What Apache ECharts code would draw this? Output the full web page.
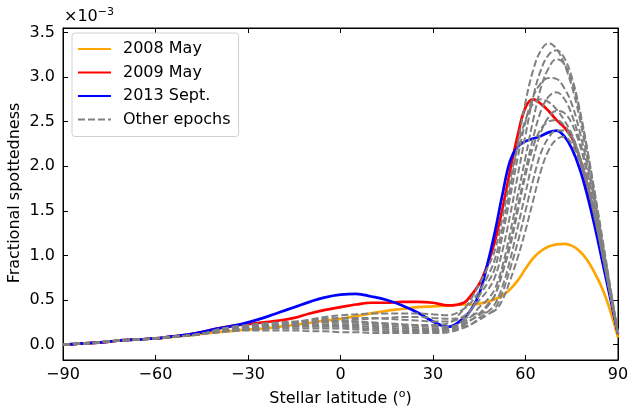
<!DOCTYPE html>
<html>
<head>
<meta charset="utf-8">
<script src="https://cdn.jsdelivr.net/npm/echarts@6/dist/echarts.min.js"></script>
<style>
  html, body { margin: 0; padding: 0; background: #fff; }
  #main { width: 629px; height: 407px; }
</style>
</head>
<body>
<div id="main"></div>
<script>
// stellar latitude grid (degrees): 5 deg steps up to 40, then 2.5 deg
const lats = [-90, -85, -80, -75, -70, -65, -60, -55, -50, -45, -40, -35, -30, -25, -20, -15, -10, -5, 0,
  5, 10, 15, 20, 25, 30, 35,
  40, 42.5, 45, 47.5, 50, 52.5, 55, 57.5, 60, 62.5, 65, 67.5, 70, 72.5, 75, 77.5, 80, 82.5, 85, 87.5, 90];

// fractional spottedness (x 1e-3)
const may2008 = [0, 0.01, 0.02, 0.035, 0.05, 0.06, 0.07, 0.085, 0.10, 0.12, 0.14, 0.155, 0.17, 0.18, 0.20, 0.22, 0.245, 0.27, 0.29,
  0.32, 0.35, 0.38, 0.40, 0.42, 0.43, 0.44,
  0.45, 0.45, 0.46, 0.48, 0.51, 0.55, 0.62, 0.72, 0.85, 0.97, 1.05, 1.10, 1.125, 1.13, 1.11, 1.05, 0.95, 0.80, 0.62, 0.38, 0.08];
const may2009 = [0, 0.01, 0.02, 0.035, 0.05, 0.06, 0.07, 0.09, 0.11, 0.14, 0.18, 0.21, 0.23, 0.25, 0.27, 0.30, 0.35, 0.39, 0.42,
  0.45, 0.47, 0.47, 0.48, 0.48, 0.47, 0.44,
  0.47, 0.56, 0.68, 0.88, 1.15, 1.52, 1.95, 2.35, 2.66, 2.75, 2.70, 2.62, 2.52, 2.44, 2.32, 2.10, 1.80, 1.42, 1.01, 0.57, 0.12];
const sept2013 = [0, 0.01, 0.02, 0.035, 0.05, 0.06, 0.07, 0.09, 0.11, 0.14, 0.18, 0.21, 0.25, 0.30, 0.36, 0.42, 0.48, 0.53, 0.56,
  0.57, 0.54, 0.50, 0.44, 0.36, 0.26, 0.20,
  0.30, 0.40, 0.57, 0.88, 1.25, 1.68, 2.06, 2.22, 2.28, 2.31, 2.34, 2.38, 2.40, 2.34, 2.20, 1.98, 1.68, 1.32, 0.92, 0.52, 0.12];

const otherEpochs = [
  [0, 0.01, 0.02, 0.035, 0.05, 0.06, 0.07, 0.085, 0.10, 0.12, 0.14, 0.16, 0.18, 0.20, 0.22, 0.25, 0.28, 0.31, 0.33,
    0.34, 0.35, 0.35, 0.35, 0.35, 0.34, 0.33,
    0.40, 0.48, 0.60, 0.75, 0.95, 1.30, 1.75, 2.25, 2.72, 3.08, 3.30, 3.38, 3.32, 3.15, 2.90, 2.55, 2.10, 1.62, 1.12, 0.62, 0.12],
  [0, 0.01, 0.02, 0.035, 0.05, 0.06, 0.07, 0.085, 0.10, 0.12, 0.15, 0.17, 0.19, 0.21, 0.23, 0.25, 0.27, 0.29, 0.30,
    0.30, 0.30, 0.29, 0.28, 0.27, 0.26, 0.26,
    0.32, 0.40, 0.50, 0.60, 0.75, 1.05, 1.45, 1.90, 2.35, 2.78, 3.08, 3.25, 3.30, 3.22, 3.00, 2.65, 2.20, 1.70, 1.18, 0.65, 0.12],
  [0, 0.01, 0.02, 0.035, 0.05, 0.06, 0.07, 0.085, 0.10, 0.12, 0.16, 0.18, 0.20, 0.21, 0.22, 0.23, 0.24, 0.25, 0.25,
    0.25, 0.24, 0.23, 0.22, 0.21, 0.20, 0.20,
    0.26, 0.32, 0.42, 0.50, 0.62, 0.88, 1.25, 1.68, 2.10, 2.52, 2.88, 3.10, 3.20, 3.15, 2.95, 2.62, 2.18, 1.68, 1.15, 0.63, 0.12],
  [0, 0.01, 0.02, 0.035, 0.05, 0.06, 0.07, 0.085, 0.10, 0.12, 0.15, 0.17, 0.18, 0.19, 0.20, 0.21, 0.21, 0.21, 0.21,
    0.21, 0.20, 0.19, 0.18, 0.17, 0.17, 0.18,
    0.28, 0.40, 0.55, 0.68, 0.85, 1.22, 1.65, 2.10, 2.50, 2.78, 2.93, 2.99, 2.98, 2.88, 2.70, 2.40, 2.02, 1.58, 1.10, 0.62, 0.12],
  [0, 0.01, 0.02, 0.035, 0.05, 0.06, 0.07, 0.085, 0.10, 0.12, 0.14, 0.16, 0.17, 0.18, 0.18, 0.18, 0.18, 0.18, 0.18,
    0.17, 0.16, 0.15, 0.15, 0.15, 0.15, 0.16,
    0.22, 0.28, 0.35, 0.44, 0.55, 0.82, 1.15, 1.55, 1.95, 2.32, 2.62, 2.78, 2.83, 2.76, 2.58, 2.30, 1.95, 1.52, 1.08, 0.60, 0.12],
  [0, 0.01, 0.02, 0.035, 0.05, 0.06, 0.07, 0.085, 0.10, 0.12, 0.17, 0.20, 0.22, 0.24, 0.25, 0.26, 0.27, 0.27, 0.27,
    0.26, 0.25, 0.24, 0.23, 0.22, 0.22, 0.24,
    0.40, 0.52, 0.68, 0.85, 1.05, 1.42, 1.85, 2.22, 2.52, 2.70, 2.75, 2.72, 2.64, 2.52, 2.36, 2.12, 1.80, 1.42, 1.00, 0.56, 0.12],
  [0, 0.01, 0.02, 0.035, 0.05, 0.06, 0.07, 0.085, 0.10, 0.12, 0.14, 0.15, 0.16, 0.16, 0.16, 0.16, 0.15, 0.15, 0.14,
    0.14, 0.13, 0.13, 0.13, 0.13, 0.13, 0.14,
    0.19, 0.23, 0.30, 0.36, 0.45, 0.65, 0.95, 1.32, 1.70, 2.08, 2.38, 2.55, 2.62, 2.60, 2.48, 2.25, 1.92, 1.50, 1.05, 0.58, 0.12],
  [0, 0.01, 0.02, 0.035, 0.05, 0.06, 0.07, 0.085, 0.10, 0.12, 0.15, 0.17, 0.19, 0.20, 0.21, 0.22, 0.22, 0.23, 0.23,
    0.23, 0.22, 0.21, 0.20, 0.19, 0.18, 0.18,
    0.24, 0.28, 0.33, 0.42, 0.55, 0.80, 1.10, 1.50, 1.90, 2.22, 2.42, 2.50, 2.52, 2.46, 2.34, 2.12, 1.85, 1.45, 1.02, 0.57, 0.12],
  [0, 0.01, 0.02, 0.035, 0.05, 0.06, 0.07, 0.085, 0.10, 0.12, 0.14, 0.16, 0.17, 0.18, 0.19, 0.20, 0.20, 0.20, 0.20,
    0.19, 0.18, 0.17, 0.16, 0.16, 0.16, 0.16,
    0.20, 0.23, 0.28, 0.33, 0.40, 0.58, 0.85, 1.15, 1.50, 1.85, 2.15, 2.32, 2.40, 2.40, 2.30, 2.10, 1.82, 1.44, 1.00, 0.56, 0.12],
  [0, 0.01, 0.02, 0.035, 0.05, 0.06, 0.07, 0.085, 0.10, 0.12, 0.16, 0.19, 0.21, 0.22, 0.23, 0.24, 0.25, 0.26, 0.27,
    0.28, 0.29, 0.30, 0.31, 0.31, 0.30, 0.29,
    0.30, 0.32, 0.36, 0.36, 0.38, 0.50, 0.72, 0.98, 1.28, 1.62, 1.95, 2.18, 2.30, 2.33, 2.25, 2.06, 1.80, 1.42, 1.00, 0.56, 0.12]
];

const xTicks = [-90, -60, -30, 0, 30, 60, 90];

const FONT = 'DejaVu Sans';
const pairs = vals => lats.map((x, i) => [x, vals[i]]);

const mainLine = (name, color, vals) => ({
  name: name,
  type: 'line',
  data: pairs(vals),
  smooth: 0.4,
  symbol: 'none',
  color: color,
  lineStyle: { color: color, width: 2.7 },
  z: 2
});

const series = [
  mainLine('2008 May', '#ffa500', may2008),
  mainLine('2009 May', '#ff0000', may2009),
  mainLine('2013 Sept.', '#0000ff', sept2013)
];
otherEpochs.forEach(vals => {
  series.push({
    name: 'Other epochs',
    type: 'line',
    data: pairs(vals),
    smooth: 0.4,
    symbol: 'none',
    color: '#808080',
    lineStyle: { color: '#808080', width: 2, type: [7, 3] },
    z: 3
  });
});

const tickStyle = { inside: true, length: 5, lineStyle: { color: '#000', width: 1 } };

const chart = echarts.init(document.getElementById('main'));
chart.setOption({
  animation: false,
  backgroundColor: '#fff',
  textStyle: { fontFamily: FONT },
  grid: {
    left: 63, right: 11, top: 28, bottom: 47,
    outerBoundsMode: 'none',
    show: true, borderColor: '#000', borderWidth: 1
  },
  legend: {
    data: ['2008 May', '2009 May', '2013 Sept.', 'Other epochs'],
    orient: 'vertical',
    left: 72,
    top: 33,
    itemWidth: 33,
    itemHeight: 16,
    itemGap: 7.5,
    padding: [8, 8, 9, 5],
    borderColor: '#d0d0d0',
    borderWidth: 1,
    borderRadius: 3,
    backgroundColor: 'rgba(255,255,255,0.8)',
    itemStyle: { opacity: 0 },
    textStyle: { fontFamily: FONT, fontSize: 16, color: '#000', padding: [0, 0, 0, 7] }
  },
  xAxis: [{
    type: 'value',
    min: -90,
    max: 90,
    interval: 30,
    name: 'Stellar latitude ({sup|o})',
    nameLocation: 'middle',
    nameGap: 29,
    nameMoveOverlap: false,
    nameTextStyle: {
      fontFamily: FONT, fontSize: 16, color: '#000',
      rich: { sup: { fontFamily: FONT, fontSize: 11, color: '#000', verticalAlign: 'top', padding: [0, 0, 8, 0] } }
    },
    axisLine: { show: true, onZero: false, lineStyle: { color: '#000', width: 1 } },
    axisTick: tickStyle,
    axisLabel: {
      fontFamily: FONT, fontSize: 16, color: '#000', margin: 7,
      formatter: v => xTicks.includes(v) ? (v < 0 ? '\u2212' + Math.abs(v) : String(v)) : ''
    },
    splitLine: { show: false }
  }, {
    type: 'value',
    position: 'top',
    min: -90,
    max: 90,
    interval: 30,
    axisLine: { show: true, onZero: false, lineStyle: { color: '#000', width: 1 } },
    axisTick: tickStyle,
    axisLabel: { show: false },
    splitLine: { show: false }
  }],
  yAxis: [{
    type: 'value',
    min: -0.172,
    max: 3.55,
    splitNumber: 7,
    axisLine: { show: true, onZero: false, lineStyle: { color: '#000', width: 1 } },
    axisTick: tickStyle,
    axisLabel: {
      fontFamily: FONT, fontSize: 16, color: '#000', margin: 8,
      showMinLabel: false, showMaxLabel: false,
      formatter: v => v.toFixed(1)
    },
    splitLine: { show: false }
  }, {
    type: 'value',
    position: 'right',
    min: -0.172,
    max: 3.55,
    splitNumber: 7,
    axisLine: { show: true, onZero: false, lineStyle: { color: '#000', width: 1 } },
    axisTick: tickStyle,
    axisLabel: { show: false },
    splitLine: { show: false }
  }],
  graphic: [{
    type: 'text',
    left: 64,
    top: 7,
    style: {
      text: '\u00d710{sup|\u22123}',
      font: '16px "DejaVu Sans"',
      fill: '#000',
      rich: { sup: { fontFamily: FONT, fontSize: 11, fill: '#000', verticalAlign: 'top', padding: [0, 0, 8, 0] } }
    }
  }, {
    // y axis title
    type: 'text',
    x: 15,
    y: 193,
    rotation: Math.PI / 2,
    style: {
      text: 'Fractional spottedness',
      font: '16px "DejaVu Sans"',
      fill: '#000',
      align: 'center',
      verticalAlign: 'middle'
    }
  }],
  series: series
});
</script>
</body>
</html>
